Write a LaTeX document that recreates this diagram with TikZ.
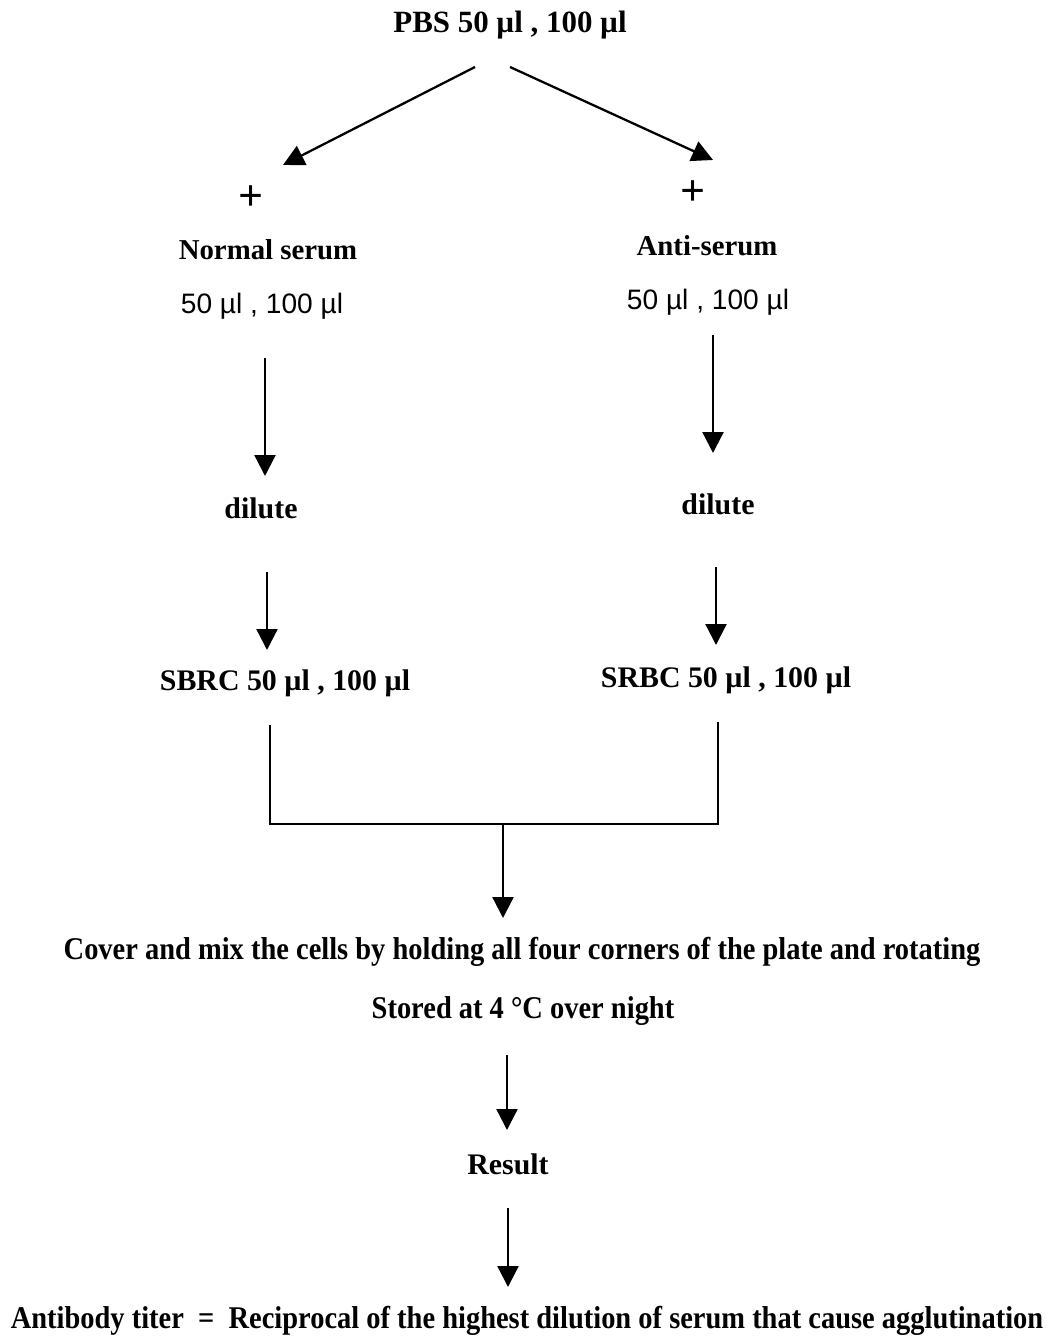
\documentclass[tikz,border=0pt]{standalone}
\usepackage{fontspec}
\setmainfont{Liberation Serif}
\setsansfont{Liberation Sans}
\newfontfamily\narrowserif{Liberation Serif}[FakeStretch=0.9]
\usetikzlibrary{arrows.meta,positioning,calc}

\begin{document}
\begin{tikzpicture}[x=0.02cm, y=-0.02cm, every node/.style={font=\fontsize{17}{20}\selectfont\bfseries, inner sep=2pt}, vol/.style={font=\fontsize{16}{19}\selectfont\sffamily}, plus/.style={font=\fontsize{25}{27}\selectfont\bfseries}, note/.style={font=\fontsize{18}{21}\selectfont\narrowserif\bfseries}, arr/.style={-{Triangle[length=0.42cm,width=0.42cm]}, line width=1.3pt}, ln/.style={line width=1.3pt}]
\useasboundingbox (0,0) rectangle (1052,1338);
% top
\node[font=\fontsize{17.6}{20}\selectfont\bfseries] (pbs) at (510,25) {PBS 50 µl , 100 µl};
% left branch
\node[plus] (plusL) at (251,198) {+};
\node[font=\fontsize{16.4}{19}\selectfont\bfseries] (normal) at (268,250) {Normal serum};
\node[vol] (volL) at (262,306) {50 µl , 100 µl};
\node (dilL) at (261,508) {dilute};
\node (sbrc) at (285,683) {SBRC 50 µl , 100 µl};
% right branch
\node[plus] (plusR) at (693,193) {+};
\node[font=\fontsize{16.4}{19}\selectfont\bfseries] (anti) at (707,246) {Anti-serum};
\node[vol] (volR) at (708,302) {50 µl , 100 µl};
\node (dilR) at (718,504) {dilute};
\node (srbc) at (726,680) {SRBC 50 µl , 100 µl};
% after mixing
\coordinate (join) at (503,824);
\node[note] (cover) at (522,952) {Cover and mix the cells by holding all four corners of the plate and rotating};
\node[note] (stored) at (523,1011) {Stored at 4 °C over night};
\node (result) at (508,1164) {Result};
\node[note] (titer) at (527,1321) {Antibody titer \ = \ Reciprocal of the highest dilution of serum that cause agglutination};

\draw[arr] ($(pbs)+(-35,42)$) -- ($(plusL)+(32,-33)$);
\draw[arr] ($(pbs)+(0,42)$) -- ($(plusR)+(20,-33)$);
\draw[arr] ($(volL)+(3,52)$) -- ($(dilL)+(4,-32)$);
\draw[arr] ($(dilL)+(6,64)$) -- ($(sbrc)+(-18,-33)$);
\draw[arr] ($(volR)+(5,33)$) -- ($(dilR)+(-5,-51)$);
\draw[arr] ($(dilR)+(-2,63)$) -- ($(srbc)+(-10,-35)$);
\draw[ln] ($(sbrc)+(-15,42)$) |- (join) -| ($(srbc)+(-8,42)$);
\draw[arr] (join) -- ($(cover)+(-19,-34)$);
\draw[arr] ($(stored)+(-16,44)$) -- ($(result)+(-1,-34)$);
\draw[arr] ($(result)+(0,44)$) -- ($(titer)+(-19,-34)$);
\end{tikzpicture}
\end{document}
